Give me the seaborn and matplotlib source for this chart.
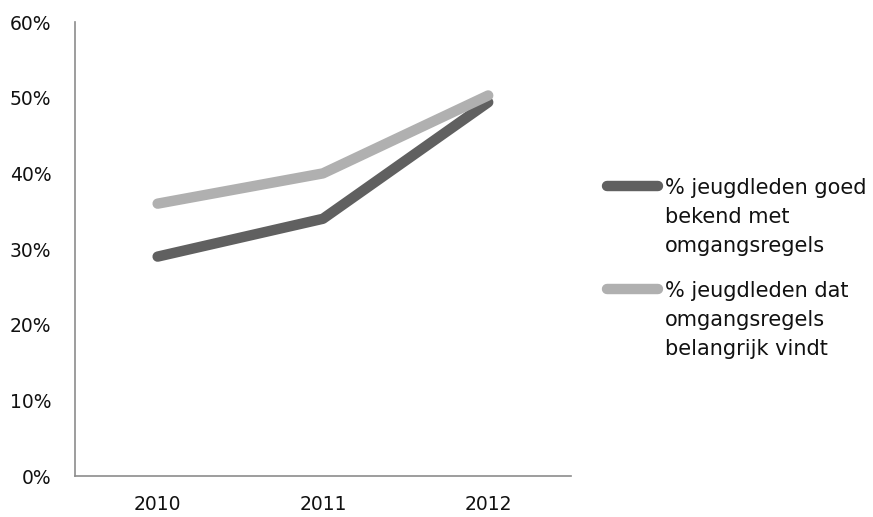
import pandas as pd
import matplotlib.pyplot as plt
import seaborn as sns
from matplotlib.ticker import PercentFormatter

years = ["2010", "2011", "2012"]
bekend = [29, 34, 49.4]
belangrijk = [36, 40, 50.3]
series_labels = [
    "% jeugdleden goed\nbekend met\nomgangsregels",
    "% jeugdleden dat\nomgangsregels\nbelangrijk vindt",
]
colors = ["#606060", "#b0b0b0"]

df = pd.DataFrame({
    "jaar": years * 2,
    "waarde": bekend + belangrijk,
    "reeks": [series_labels[0]] * 3 + [series_labels[1]] * 3,
})

sns.set_theme(style="white")
plt.rcParams["font.family"] = ["DejaVu Sans"]

fig = plt.figure(figsize=(8.73, 5.17), dpi=100)
ax = fig.add_axes([0.0859, 0.0793, 0.568, 0.878])

sns.lineplot(data=df, x="jaar", y="waarde", hue="reeks", palette=colors,
             linewidth=7.5, ax=ax, sort=False, legend=True)
for line in ax.get_lines():
    line.set_solid_capstyle("round")
    line.set_solid_joinstyle("round")

ax.set_xlim(-0.5, 2.5)
ax.set_ylim(0, 60)
ax.set_yticks(range(0, 61, 10))
ax.yaxis.set_major_formatter(PercentFormatter(decimals=0))
ax.set_xlabel("")
ax.set_ylabel("")
ax.tick_params(axis="x", labelsize=13.5, pad=14, length=0, colors="#111111")
ax.tick_params(axis="y", labelsize=13.5, pad=17, length=0, colors="#111111")

sns.despine(ax=ax)
for side in ["left", "bottom"]:
    ax.spines[side].set_color("#8c8c8c")
    ax.spines[side].set_linewidth(1.2)

leg = ax.legend(loc="upper left", bbox_to_anchor=(0.695, 0.656),
                bbox_transform=fig.transFigure, frameon=False, fontsize=15,
                handlelength=2.45, handleheight=1.0, handletextpad=0.34,
                labelspacing=1.2, borderaxespad=0, borderpad=0)
for h in leg.get_lines():
    h.set_linewidth(7.5)
    h.set_solid_capstyle("round")
for t in leg.get_texts():
    t.set_linespacing(1.56)
    t.set_color("#111111")
# handle next to the first line of each label, as in the original
for column in leg._legend_handle_box.get_children():
    for item in column.get_children():
        item.align = "top"

fig.savefig("out.png", dpi=100)
plt.close()
